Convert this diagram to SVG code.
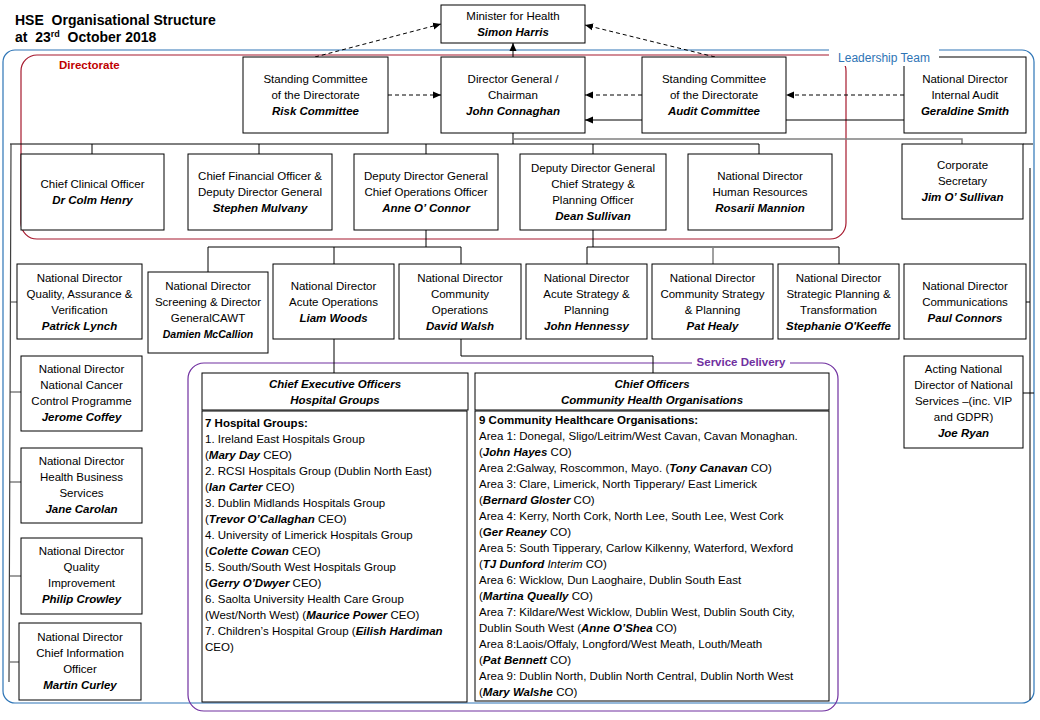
<svg xmlns="http://www.w3.org/2000/svg" width="1040" height="720" viewBox="0 0 1040 720">
<defs>
<marker id="ah" markerWidth="8" markerHeight="8" refX="8" refY="4" orient="auto" markerUnits="userSpaceOnUse"><path d="M0,0.5 L8,4 L0,7.5 z" fill="#000"/></marker>
<style>
text{font-family:"Liberation Sans",Arial,sans-serif;font-size:11.5px;fill:#000}
.c{text-anchor:middle}
.b{font-weight:bold;font-style:italic}
.box{fill:#fff;stroke:#000;stroke-width:1}
.ln{stroke:#000;fill:none;stroke-width:1}
.gr{stroke:#808080;fill:none;stroke-width:1.5}
.d{stroke-dasharray:4 3}
.lt{font-size:14px;font-weight:bold}
</style>
</defs>
<rect width="1040" height="720" fill="#fff"/>

<g id="title">
<text x="15" y="25" class="lt" xml:space="preserve">HSE  Organisational Structure</text>
<text x="15" y="42" class="lt" xml:space="preserve">at  23<tspan font-size="9" dy="-5">rd</tspan><tspan dy="5">  October 2018</tspan></text>
</g>

<g id="groups">
<rect x="3" y="50" width="1031" height="653" rx="12" fill="none" stroke="#2E75B6" stroke-width="1.2"/>
<rect x="21" y="55" width="825" height="184" rx="16" fill="none" stroke="#A6192E" stroke-width="1.2"/>
<rect x="188" y="363" width="650" height="348" rx="16" fill="none" stroke="#7030A0" stroke-width="1.2"/>
<text x="59" y="69" style="fill:#C00000;font-weight:bold">Directorate</text>
</g>

<g id="connectors">
<line class="ln d" x1="388" y1="95" x2="441" y2="95" marker-end="url(#ah)"/>
<line class="ln d" x1="642" y1="95" x2="585" y2="95" marker-end="url(#ah)"/>
<line class="ln" x1="642" y1="120" x2="585" y2="120" marker-end="url(#ah)"/>
<line class="ln d" x1="904" y1="95" x2="786" y2="95" marker-end="url(#ah)"/>
<line class="ln" x1="786" y1="120" x2="904" y2="120"/>
<line class="ln d" x1="315" y1="57" x2="441" y2="24" marker-end="url(#ah)"/>
<line class="ln d" x1="715" y1="57" x2="585" y2="25" marker-end="url(#ah)"/>
<line class="ln" x1="513" y1="57" x2="513" y2="43" marker-end="url(#ah)"/>
<path class="ln" d="M513,133 V144 M10,144 H759 V154 M92,144 V154 M259,144 V154 M426,144 V154 M593,144 V154"/>
<path class="gr" d="M513,139 H962 V144"/>
<path class="ln" d="M1023,144 H1033"/>
<path class="ln" d="M1030,168 V700 M1026,302 H1030 M1023,393 H1034"/>
<path stroke="#404040" fill="none" stroke-width="1.2" d="M11,144 L9,682 M10,302 H17 M10,392 H21 M10,482 H21 M10,576 H21 M10,662 H19"/>
<path class="ln" d="M426,230 V247 M208,247 H461 M208,247 V272 M334,247 V264 M461,247 V264"/>
<path class="ln" d="M593,230 V247 M587,247 H839 M587,247 V264 M839,247 V264"/>
<path class="gr" d="M713,247 V264"/>
<path class="ln" d="M334,339 V373 M461,339 V356 H653 V373"/>
</g>

<g id="minister">
<rect class="box" x="441" y="5" width="144" height="38"/>
<text class="c" x="513" y="20">Minister for Health</text>
<text class="c b" x="513" y="36">Simon Harris</text>
</g>

<g id="risk">
<rect class="box" x="243" y="57" width="145" height="76"/>
<text class="c" x="315.5" y="83">Standing Committee</text>
<text class="c" x="315.5" y="99">of the Directorate</text>
<text class="c b" x="315.5" y="115">Risk Committee</text>
</g>

<g id="dg">
<rect class="box" x="441" y="57" width="144" height="76"/>
<text class="c" x="513" y="83">Director General /</text>
<text class="c" x="513" y="99">Chairman</text>
<text class="c b" x="513" y="115">John Connaghan</text>
</g>

<g id="audit">
<rect class="box" x="642" y="57" width="144" height="76"/>
<text class="c" x="714" y="83">Standing Committee</text>
<text class="c" x="714" y="99">of the Directorate</text>
<text class="c b" x="714" y="115">Audit Committee</text>
</g>

<g id="internal-audit">
<rect class="box" x="904" y="57" width="122" height="76"/>
<text class="c" x="965" y="83">National Director</text>
<text class="c" x="965" y="99">Internal Audit</text>
<text class="c b" x="965" y="115">Geraldine Smith</text>
</g>

<g id="cco">
<rect class="box" x="21" y="154" width="143" height="76"/>
<text class="c" x="92.5" y="188">Chief Clinical Officer</text>
<text class="c b" x="92.5" y="204">Dr Colm Henry</text>
</g>

<g id="cfo">
<rect class="box" x="188" y="154" width="144" height="76"/>
<text class="c" x="260" y="180">Chief Financial Officer &amp;</text>
<text class="c" x="260" y="196">Deputy Director General</text>
<text class="c b" x="260" y="212">Stephen Mulvany</text>
</g>

<g id="coo">
<rect class="box" x="354" y="154" width="144" height="76"/>
<text class="c" x="426" y="180">Deputy Director General</text>
<text class="c" x="426" y="196">Chief Operations Officer</text>
<text class="c b" x="426" y="212">Anne O’ Connor</text>
</g>

<g id="cspo">
<rect class="box" x="520" y="154" width="146" height="76"/>
<text class="c" x="593" y="172">Deputy Director General</text>
<text class="c" x="593" y="188">Chief Strategy &amp;</text>
<text class="c" x="593" y="204">Planning Officer</text>
<text class="c b" x="593" y="220">Dean Sullivan</text>
</g>

<g id="hr">
<rect class="box" x="688" y="154" width="144" height="76"/>
<text class="c" x="760" y="180">National Director</text>
<text class="c" x="760" y="196">Human Resources</text>
<text class="c b" x="760" y="212">Rosarii Mannion</text>
</g>

<g id="corpsec">
<rect class="box" x="902" y="144" width="121" height="75"/>
<text class="c" x="962.5" y="169">Corporate</text>
<text class="c" x="962.5" y="185">Secretary</text>
<text class="c b" x="962.5" y="201">Jim O’ Sullivan</text>
</g>

<g id="quality-assurance">
<rect class="box" x="17" y="264" width="125" height="75"/>
<text class="c" x="79.5" y="282">National Director</text>
<text class="c" x="79.5" y="298">Quality, Assurance &amp;</text>
<text class="c" x="79.5" y="314">Verification</text>
<text class="c b" x="79.5" y="330">Patrick Lynch</text>
</g>

<g id="screening">
<rect class="box" x="148" y="272" width="120" height="81"/>
<text class="c" x="208" y="290">National Director</text>
<text class="c" x="208" y="306">Screening &amp; Director</text>
<text class="c" x="208" y="322">GeneralCAWT</text>
<text class="c b" x="208" y="338" style="font-size:10.5px">Damien McCallion</text>
</g>

<g id="acute-ops">
<rect class="box" x="273" y="264" width="121" height="75"/>
<text class="c" x="333.5" y="290">National Director</text>
<text class="c" x="333.5" y="306">Acute Operations</text>
<text class="c b" x="333.5" y="322">Liam Woods</text>
</g>

<g id="community-ops">
<rect class="box" x="399" y="264" width="122" height="75"/>
<text class="c" x="460" y="282">National Director</text>
<text class="c" x="460" y="298">Community</text>
<text class="c" x="460" y="314">Operations</text>
<text class="c b" x="460" y="330">David Walsh</text>
</g>

<g id="acute-strategy">
<rect class="box" x="526" y="264" width="121" height="75"/>
<text class="c" x="586.5" y="282">National Director</text>
<text class="c" x="586.5" y="298">Acute Strategy  &amp;</text>
<text class="c" x="586.5" y="314">Planning</text>
<text class="c b" x="586.5" y="330">John Hennessy</text>
</g>

<g id="community-strategy">
<rect class="box" x="652" y="264" width="121" height="75"/>
<text class="c" x="712.5" y="282">National Director</text>
<text class="c" x="712.5" y="298">Community Strategy</text>
<text class="c" x="712.5" y="314">&amp; Planning</text>
<text class="c b" x="712.5" y="330">Pat Healy</text>
</g>

<g id="strategic-planning">
<rect class="box" x="778" y="264" width="121" height="75"/>
<text class="c" x="838.5" y="282">National Director</text>
<text class="c" x="838.5" y="298">Strategic Planning &amp;</text>
<text class="c" x="838.5" y="314">Transformation</text>
<text class="c b" x="838.5" y="330">Stephanie O'Keeffe</text>
</g>

<g id="communications">
<rect class="box" x="904" y="264" width="122" height="75"/>
<text class="c" x="965" y="290">National Director</text>
<text class="c" x="965" y="306">Communications</text>
<text class="c b" x="965" y="322">Paul Connors</text>
</g>

<g id="national-services">
<rect class="box" x="904" y="356" width="119" height="92"/>
<text class="c" x="963.5" y="373">Acting National</text>
<text class="c" x="963.5" y="389">Director of National</text>
<text class="c" x="963.5" y="405">Services –(inc. VIP</text>
<text class="c" x="963.5" y="421">and GDPR)</text>
<text class="c b" x="963.5" y="437">Joe Ryan</text>
</g>

<g id="cancer">
<rect class="box" x="21" y="356" width="121" height="75"/>
<text class="c" x="81.5" y="373">National Director</text>
<text class="c" x="81.5" y="389">National Cancer</text>
<text class="c" x="81.5" y="405">Control Programme</text>
<text class="c b" x="81.5" y="421">Jerome  Coffey</text>
</g>

<g id="business-services">
<rect class="box" x="21" y="448" width="121" height="75"/>
<text class="c" x="81.5" y="465">National Director</text>
<text class="c" x="81.5" y="481">Health Business</text>
<text class="c" x="81.5" y="497">Services</text>
<text class="c b" x="81.5" y="513">Jane Carolan</text>
</g>

<g id="quality-improvement">
<rect class="box" x="21" y="538" width="121" height="76"/>
<text class="c" x="81.5" y="555">National Director</text>
<text class="c" x="81.5" y="571">Quality</text>
<text class="c" x="81.5" y="587">Improvement</text>
<text class="c b" x="81.5" y="603">Philip Crowley</text>
</g>

<g id="cio">
<rect class="box" x="19" y="623" width="122" height="77"/>
<text class="c" x="80" y="641">National Director</text>
<text class="c" x="80" y="657">Chief Information</text>
<text class="c" x="80" y="673">Officer</text>
<text class="c b" x="80" y="689">Martin Curley</text>
</g>

<g id="hospital-groups">
<rect class="box" x="202" y="373" width="266" height="37"/>
<text class="c b" x="335" y="388">Chief Executive  Officers</text>
<text class="c b" x="335" y="404">Hospital Groups</text>
<rect class="box" x="202" y="411" width="265" height="291"/>
<text x="205" y="427" style="font-weight:bold">7 Hospital  Groups:</text>
<text x="205" y="443">1. Ireland East Hospitals Group</text>
<text x="205" y="459">(<tspan class="b">Mary Day</tspan> CEO)</text>
<text x="205" y="475">2. RCSI Hospitals Group (Dublin North East)</text>
<text x="205" y="491">(<tspan class="b">Ian Carter</tspan> CEO)</text>
<text x="205" y="507">3. Dublin Midlands Hospitals Group</text>
<text x="205" y="523">(<tspan class="b">Trevor O’Callaghan</tspan> CEO)</text>
<text x="205" y="539">4. University of Limerick Hospitals Group</text>
<text x="205" y="555">(<tspan class="b">Colette Cowan</tspan> CEO)</text>
<text x="205" y="571">5. South/South West Hospitals Group</text>
<text x="205" y="587">(<tspan class="b">Gerry O’Dwyer</tspan> CEO)</text>
<text x="205" y="603">6. Saolta University Health Care Group</text>
<text x="205" y="619">(West/North West) (<tspan class="b">Maurice Power</tspan> CEO)</text>
<text x="205" y="635">7. Children’s Hospital Group (<tspan class="b">Eilish Hardiman</tspan></text>
<text x="205" y="651">CEO)</text>
</g>

<g id="community-health">
<rect class="box" x="475" y="373" width="354" height="37"/>
<text class="c b" x="652" y="388">Chief Officers</text>
<text class="c b" x="652" y="404">Community Health Organisations</text>
<rect class="box" x="475" y="411" width="354" height="290"/>
<text x="479" y="424" style="font-weight:bold">9 Community Healthcare Organisations:</text>
<text x="479" y="440">Area 1: Donegal, Sligo/Leitrim/West Cavan, Cavan Monaghan.</text>
<text x="479" y="456">(<tspan class="b">John Hayes</tspan> CO)</text>
<text x="479" y="472">Area 2:Galway, Roscommon, Mayo. (<tspan class="b">Tony Canavan</tspan> CO)</text>
<text x="479" y="488">Area 3: Clare, Limerick, North Tipperary/ East Limerick</text>
<text x="479" y="504">(<tspan class="b">Bernard Gloster</tspan> CO)</text>
<text x="479" y="520">Area 4: Kerry, North Cork, North Lee, South Lee, West Cork</text>
<text x="479" y="536">(<tspan class="b">Ger Reaney</tspan> CO)</text>
<text x="479" y="552">Area 5: South Tipperary, Carlow Kilkenny, Waterford, Wexford</text>
<text x="479" y="568">(<tspan class="b">TJ Dunford</tspan> <tspan font-style="italic">Interim</tspan> CO)</text>
<text x="479" y="584">Area 6: Wicklow, Dun Laoghaire, Dublin South East</text>
<text x="479" y="600">(<tspan class="b">Martina Queally</tspan> CO)</text>
<text x="479" y="616">Area 7: Kildare/West Wicklow, Dublin West, Dublin South City,</text>
<text x="479" y="632">Dublin South West (<tspan class="b">Anne O’Shea</tspan> CO)</text>
<text x="479" y="648">Area 8:Laois/Offaly, Longford/West Meath, Louth/Meath</text>
<text x="479" y="664">(<tspan class="b">Pat Bennett</tspan> CO)</text>
<text x="479" y="680">Area 9: Dublin North, Dublin North Central, Dublin North West</text>
<text x="479" y="696">(<tspan class="b">Mary Walshe</tspan> CO)</text>
</g>

<g id="labels">
<rect x="829" y="45" width="110" height="21" fill="#fff"/>
<text class="c" x="884" y="62" style="fill:#2E74B5;font-size:12px">Leadership Team</text>
<rect x="692" y="356" width="98" height="13" fill="#fff"/>
<text class="c" x="741" y="366" style="fill:#7030A0;font-weight:bold">Service Delivery</text>
</g>
</svg>
